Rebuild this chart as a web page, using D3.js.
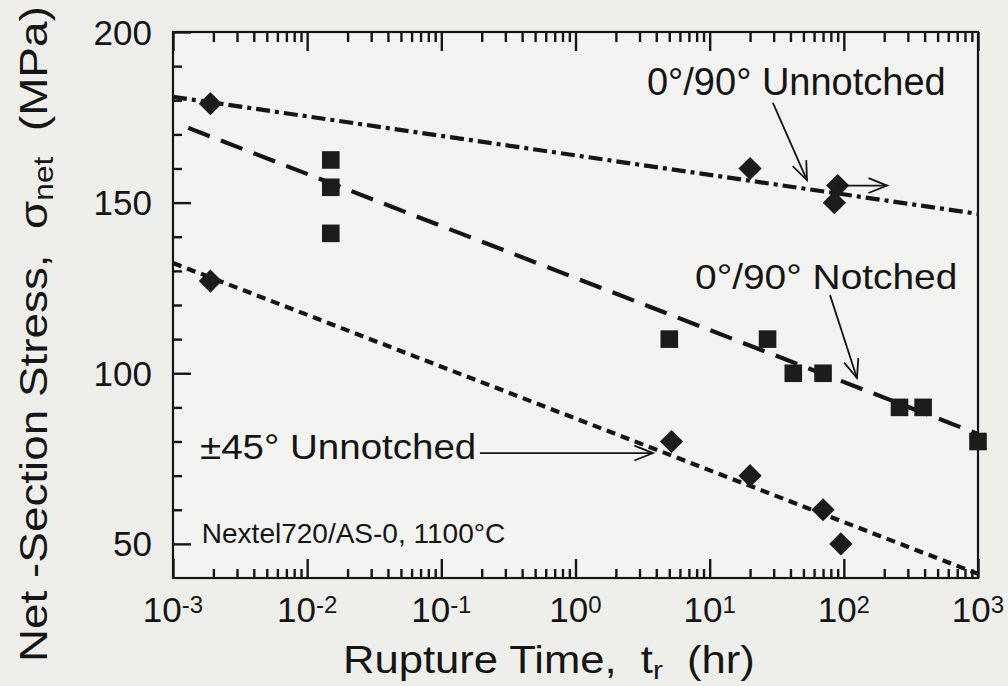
<!DOCTYPE html>
<html><head><meta charset="utf-8">
<script src="https://cdn.jsdelivr.net/npm/d3@7"></script>
<style>
body{margin:0;background:#eeeeeb;}
svg{display:block}
text{font-family:"Liberation Sans",Arial,Helvetica,sans-serif;fill:#151515;white-space:pre;}
</style>
</head><body>
<svg id="c" width="1008" height="686"></svg>
<script>
// ---- data ----
const unnotchedT = [0.0019, 20, 90, 85];
const unnotchedS = [179, 160, 155, 150];
const notchedT = [0.015, 0.015, 0.015, 5, 27, 42, 70, 260, 390, 1000];
const notchedS = [162.5, 154.5, 141, 110, 110, 100, 100, 90, 90, 80];
const pm45T = [0.0019, 5.2, 20, 70, 95];
const pm45S = [127, 80, 70, 60, 50];
// fitted trend lines (end points)
const unnotchedFitT = [1e-3, 1e3], unnotchedFitS = [181, 146.7];
const notchedFitT = [1.3e-3, 1e3], notchedFitS = [171.9, 82.2];
const pm45FitT = [1e-3, 1e3], pm45FitS = [132.3, 41.2];
// run-out arrow
const runoutT = [90, 210], runoutS = [155, 155];
// ticks
const xMajor = [1e-3, 1e-2, 1e-1, 1e0, 1e1, 1e2, 1e3];
const xExp = ["-3", "-2", "-1", "0", "1", "2", "3"];
const yMajor = [50, 100, 150, 200];
const yMinor = [60, 70, 80, 90, 110, 120, 130, 140, 160, 170, 180, 190];
// labels
const labels = [
  {text: "0°/90° Unnotched", t: 3.41, s: 181.5, size: 38, sx: 1.0},
  {text: "0°/90° Notched", t: 7.78, s: 124.7, size: 36, sx: 1.08},
  {text: "±45° Unnotched", t: 1.59e-3, s: 74.9, size: 35, sx: 1.1},
  {text: "Nextel720/AS-0, 1100°C", t: 1.64e-3, s: 50.3, size: 28, sx: 1.0}
];
const arrows = [
  {t: [29.6, 53.1], s: [179.2, 156.6]},
  {t: [78.9, 125.3], s: [122.9, 98.6]},
  {t: [0.194, 3.78], s: [76.6, 76.6]}
];

// ---- layout ----
const L = 173, R = 978, T = 32, B = 578;
const svg = d3.select("#c");
const x = d3.scaleLog().domain([1e-3, 1e3]).range([L, R]);
const y = d3.scaleLinear().domain([40, 200]).range([B, T]);
const ink = "#151515";

svg.append("rect").attr("x", L).attr("y", T).attr("width", R - L).attr("height", B - T)
  .attr("fill", "#f3f3f1");

// ---- axis ticks (inward) ----
const xMinor = [];
xMajor.slice(0, -1).forEach(m => { for (let k = 2; k <= 9; k++) xMinor.push(m * k); });
const axes = [
  [d3.axisBottom(x).tickValues(xMinor).tickSizeInner(-9), `translate(0,${B})`],
  [d3.axisBottom(x).tickValues(xMajor).tickSizeInner(-19), `translate(0,${B})`],
  [d3.axisTop(x).tickValues(xMinor).tickSizeInner(-10), `translate(0,${T})`],
  [d3.axisTop(x).tickValues(xMajor).tickSizeInner(-19), `translate(0,${T})`],
  [d3.axisLeft(y).tickValues(yMinor).tickSizeInner(-9), `translate(${L},0)`],
  [d3.axisLeft(y).tickValues(yMajor).tickSizeInner(-18), `translate(${L},0)`]
];
axes.forEach(([ax, tr]) => {
  const g = svg.append("g").attr("transform", tr)
    .call(ax.tickSizeOuter(0).tickFormat(() => ""));
  g.select(".domain").remove();
  g.selectAll(".tick line").attr("stroke", ink).attr("stroke-width", 2.4);
});

// frame
svg.append("rect").attr("x", L).attr("y", T).attr("width", R - L).attr("height", B - T)
  .attr("fill", "none").attr("stroke", ink).attr("stroke-width", 2.2);

// x tick labels
const xl = svg.append("g").selectAll("text").data(xMajor).join("text")
  .attr("x", d => x(d)).attr("y", 622).attr("text-anchor", "middle")
  .attr("font-size", 35);
xl.append("tspan").text("10");
xl.append("tspan").text((d, i) => xExp[i]).attr("font-size", 24).attr("dy", -9);

// y tick labels
svg.append("g").selectAll("text").data(yMajor).join("text")
  .attr("x", 152).attr("y", d => y(d)).attr("dy", "0.36em")
  .attr("text-anchor", "end").attr("font-size", 35).text(d => d);

// axis titles (fit to measured extents)
function fit(g, target) {
  const w = g.node().getBBox().width;
  return target / w;
}
const xt = svg.append("g");
const xtt = xt.append("text").attr("font-size", 38);
xtt.append("tspan").text("Rupture Time,  t");
xtt.append("tspan").text("r").attr("font-size", 26).attr("dy", 6);
xtt.append("tspan").text("  (hr)").attr("dy", -6);
const sxX = fit(xt, 412);
xt.attr("transform", `translate(343,673) scale(${sxX},1)`);

const yt = svg.append("g");
const ytt = yt.append("text").attr("font-size", 39);
ytt.append("tspan").text("Net -Section Stress,  σ");
ytt.append("tspan").text("net").attr("font-size", 27).attr("dy", 6);
ytt.append("tspan").text("  (MPa)").attr("dy", -6);
const sxY = fit(yt, 656);
yt.attr("transform", `translate(47,662) rotate(-90) scale(${sxY},1)`);

// trend lines
const lineGen = d3.line().x(d => x(d[0])).y(d => y(d[1]));
function trend(ts, ss, dash) {
  svg.append("path").datum(d3.zip(ts, ss)).attr("d", lineGen)
    .attr("fill", "none").attr("stroke", ink).attr("stroke-width", 4.2)
    .attr("stroke-dasharray", dash);
}
trend(unnotchedFitT, unnotchedFitS, "14,5,4,5");
trend(notchedFitT, notchedFitS, "23,12");
trend(pm45FitT, pm45FitS, "9,6");

// markers
function diamonds(ts, ss) {
  svg.append("g").selectAll("path").data(d3.zip(ts, ss)).join("path")
    .attr("d", d3.symbol().type(d3.symbolSquare).size(270))
    .attr("transform", d => `translate(${x(d[0])},${y(d[1])}) rotate(45)`)
    .attr("fill", "#1c1c1c");
}
function squares(ts, ss) {
  svg.append("g").selectAll("path").data(d3.zip(ts, ss)).join("path")
    .attr("d", d3.symbol().type(d3.symbolSquare).size(310))
    .attr("transform", d => `translate(${x(d[0])},${y(d[1])})`)
    .attr("fill", "#1c1c1c");
}
diamonds(unnotchedT, unnotchedS);
squares(notchedT, notchedS);
diamonds(pm45T, pm45S);

// arrows
function arrow(ts, ss) {
  const x0 = x(ts[0]), y0 = y(ss[0]), x1 = x(ts[1]), y1 = y(ss[1]);
  const a = Math.atan2(y1 - y0, x1 - x0), len = 20, h = 0.38;
  const g = svg.append("g").attr("stroke", ink).attr("stroke-width", 1.8).attr("fill", "none");
  g.append("path").attr("d", `M${x0},${y0}L${x1},${y1}`);
  g.append("path").attr("d",
    `M${x1 - len * Math.cos(a - h)},${y1 - len * Math.sin(a - h)}L${x1},${y1}L${x1 - len * Math.cos(a + h)},${y1 - len * Math.sin(a + h)}`);
}
arrows.forEach(a => arrow(a.t, a.s));
arrow(runoutT, runoutS);

// labels
labels.forEach(l => {
  svg.append("text").attr("font-size", l.size)
    .attr("transform", `translate(${x(l.t)},${y(l.s)}) scale(${l.sx},1)`)
    .text(l.text);
});
</script>
</body></html>
